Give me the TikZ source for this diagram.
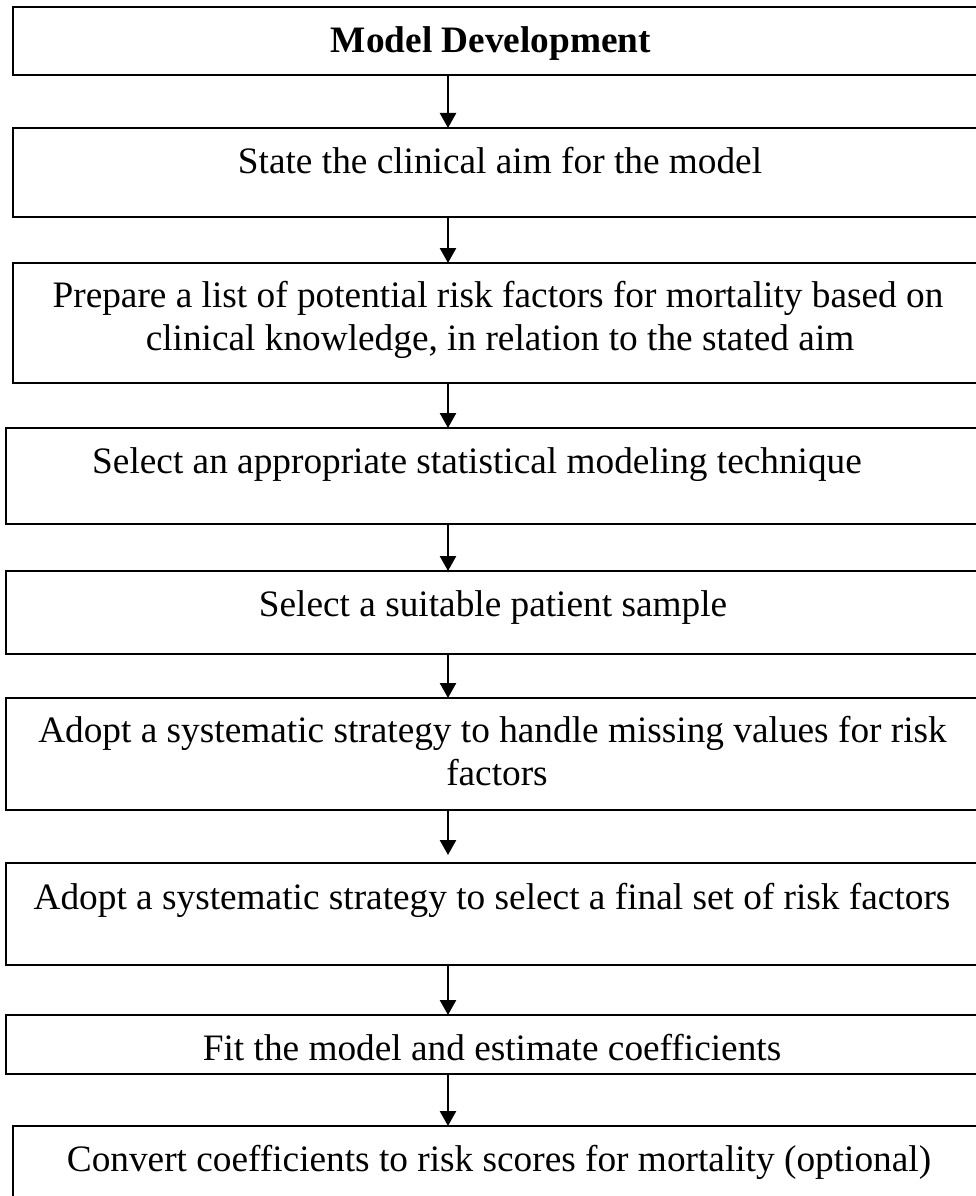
\documentclass[tikz,border=0pt]{standalone}
\usepackage{fontspec}
\setmainfont{Liberation Serif}
\usetikzlibrary{arrows.meta}
\tikzset{
  box/.style={draw=black, line width=2pt, rectangle, outer sep=0pt, inner sep=0pt, anchor=north west},
  txt/.style={anchor=base, inner sep=0pt, font=\fontsize{37.3}{43}\selectfont},
  arr/.style={line width=2.5pt, -{Triangle[length=15pt,width=16pt]}}
}
\begin{document}
\begin{tikzpicture}[x=1pt,y=-1pt]
\useasboundingbox (0,0) rectangle (976,1196);
\clip (0,0) rectangle (976,1196);
% boxes
\node[box, minimum width=972pt, minimum height=68pt] (b1) at (13,7) {};
\node[box, minimum width=972pt, minimum height=89pt] (b2) at (13,128) {};
\node[box, minimum width=972pt, minimum height=120pt] (b3) at (13,263) {};
\node[box, minimum width=979pt, minimum height=96pt] (b4) at (6,428) {};
\node[box, minimum width=979pt, minimum height=83pt] (b5) at (6,571) {};
\node[box, minimum width=979pt, minimum height=112pt] (b6) at (6,698) {};
\node[box, minimum width=979pt, minimum height=102pt] (b7) at (6,863) {};
\node[box, minimum width=979pt, minimum height=59pt] (b8) at (6,1015) {};
\node[box, minimum width=972pt, minimum height=90pt] (b9) at (13,1126) {};
% texts
\node[txt, font=\fontsize{37.3}{43}\selectfont\bfseries] (t1) at (491,53) {Model Development};
\node[txt] (t2) at (500,173) {State the clinical aim for the model};
\node[txt] (t3a) at (498,307) {Prepare a list of potential risk factors for mortality based on};
\node[txt] (t3b) at (500,350) {clinical knowledge, in relation to the stated aim};
\node[txt] (t4) at (477,473) {Select an appropriate statistical modeling technique};
\node[txt] (t5) at (493,616) {Select a suitable patient sample};
\node[txt] (t6a) at (492.5,742) {Adopt a systematic strategy to handle missing values for risk};
\node[txt] (t6b) at (497,785) {factors};
\node[txt] (t7) at (492,909) {Adopt a systematic strategy to select a final set of risk factors};
\node[txt] (t8) at (492,1060) {Fit the model and estimate coefficients};
\node[txt] (t9) at (499,1171) {Convert coefficients to risk scores for mortality (optional)};
% arrows
\coordinate (ax) at (448,0);
\draw[arr] (b1.south -| ax) -- (b2.north -| ax);
\draw[arr] (b2.south -| ax) -- (b3.north -| ax);
\draw[arr] (b3.south -| ax) -- (b4.north -| ax);
\draw[arr] (b4.south -| ax) -- (b5.north -| ax);
\draw[arr] (b5.south -| ax) -- (b6.north -| ax);
\draw[arr, shorten >=8pt] (b6.south -| ax) -- (b7.north -| ax);
\draw[arr] (b7.south -| ax) -- (b8.north -| ax);
\draw[arr] (b8.south -| ax) -- (b9.north -| ax);
\end{tikzpicture}
\end{document}
